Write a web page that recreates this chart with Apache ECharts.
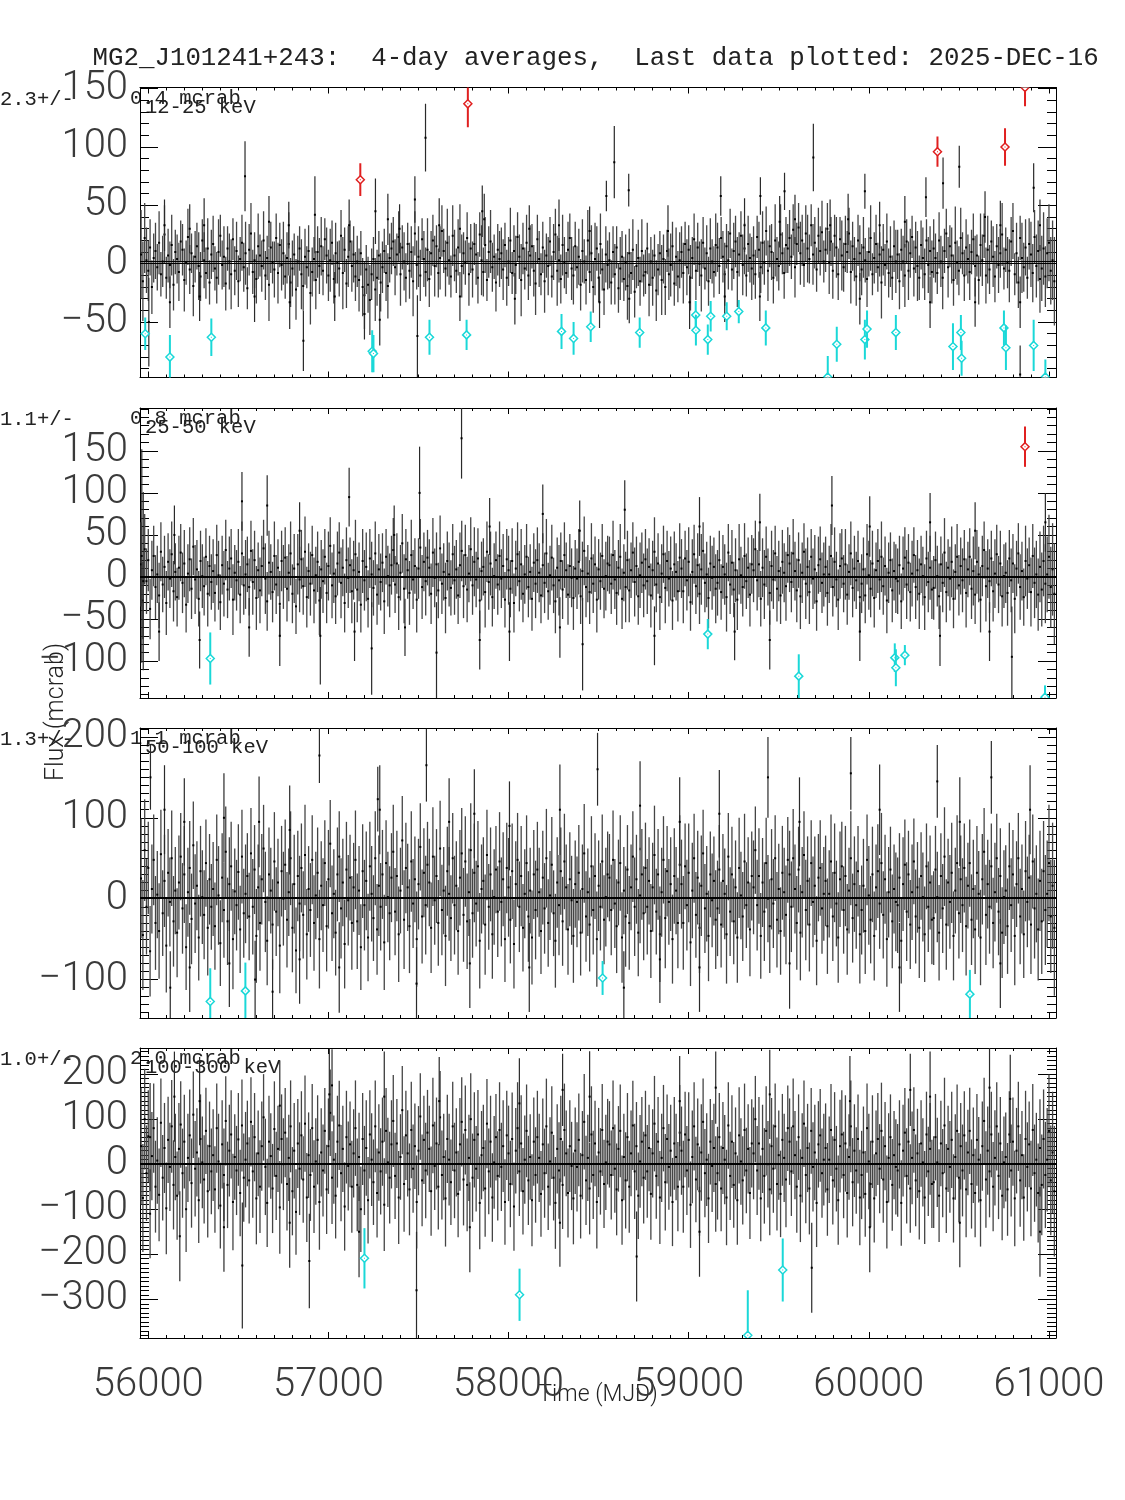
<!DOCTYPE html>
<html><head><meta charset="utf-8">
<script src="https://cdn.jsdelivr.net/npm/echarts@6/dist/echarts.min.js"></script>
<style>html,body{margin:0;padding:0;background:#fff}#c{width:1125px;height:1500px}</style>
</head><body><div id="c"></div>
<script>
// ---------------- DATA ----------------
const TITLE = 'MG2_J101241+243:  4-day averages,  Last data plotted: 2025-DEC-16';
const BANDS = ['12-25 keV', '25-50 keV', '50-100 keV', '100-300 keV'];
const MEAN_TXT = ['2.3+/-', '1.1+/-', '1.3+/-', '1.0+/-'];
const ERR_TXT = ['0.4 mcrab', '0.8 mcrab', '1.1 mcrab', '2.0 mcrab'];
const MEANS = [2.3, 1.1, 1.3, 1.0];
const X_TICKS = [56000, 57000, 58000, 59000, 60000, 61000];
const Y_TICKS_1 = [-50, 0, 50, 100, 150];
const Y_TICKS_2 = [-100, -50, 0, 50, 100, 150];
const Y_TICKS_3 = [-100, 0, 100, 200];
const Y_TICKS_4 = [-300, -200, -100, 0, 100, 200];

// time of each (sub-sampled) bin, MJD
const TIMES = [
55960,55970,55980,55990,56000,56010,56020,56030,56040,56050,56060,56070,56080,56090,56100,56110,56120,56130,56140,56150,
56160,56170,56180,56190,56200,56210,56220,56230,56240,56250,56260,56270,56280,56290,56300,56310,56320,56330,56340,56350,
56360,56370,56380,56390,56400,56410,56420,56430,56440,56450,56460,56470,56480,56490,56500,56510,56520,56530,56540,56550,
56560,56570,56580,56590,56600,56610,56620,56630,56640,56650,56660,56670,56680,56690,56700,56710,56720,56730,56740,56750,
56760,56770,56780,56790,56800,56810,56820,56830,56840,56850,56860,56870,56880,56890,56900,56910,56920,56930,56940,56950,
56960,56970,56980,56990,57000,57010,57020,57030,57040,57050,57060,57070,57080,57090,57100,57110,57120,57130,57140,57150,
57160,57170,57180,57190,57200,57210,57220,57230,57240,57250,57260,57270,57280,57290,57300,57310,57320,57330,57340,57350,
57360,57370,57380,57390,57400,57410,57420,57430,57440,57450,57460,57470,57480,57490,57500,57510,57520,57530,57540,57550,
57560,57570,57580,57590,57600,57610,57620,57630,57640,57650,57660,57670,57680,57690,57700,57710,57720,57730,57740,57750,
57760,57770,57780,57790,57800,57810,57820,57830,57840,57850,57860,57870,57880,57890,57900,57910,57920,57930,57940,57950,
57960,57970,57980,57990,58000,58010,58020,58030,58040,58050,58060,58070,58080,58090,58100,58110,58120,58130,58140,58150,
58160,58170,58180,58190,58200,58210,58220,58230,58240,58250,58260,58270,58280,58290,58300,58310,58320,58330,58340,58350,
58360,58370,58380,58390,58400,58410,58420,58430,58440,58450,58460,58470,58480,58490,58500,58510,58520,58530,58540,58550,
58560,58570,58580,58590,58600,58610,58620,58630,58640,58650,58660,58670,58680,58690,58700,58710,58720,58730,58740,58750,
58760,58770,58780,58790,58800,58810,58820,58830,58840,58850,58860,58870,58880,58890,58900,58910,58920,58930,58940,58950,
58960,58970,58980,58990,59000,59010,59020,59030,59040,59050,59060,59070,59080,59090,59100,59110,59120,59130,59140,59150,
59160,59170,59180,59190,59200,59210,59220,59230,59240,59250,59260,59270,59280,59290,59300,59310,59320,59330,59340,59350,
59360,59370,59380,59390,59400,59410,59420,59430,59440,59450,59460,59470,59480,59490,59500,59510,59520,59530,59540,59550,
59560,59570,59580,59590,59600,59610,59620,59630,59640,59650,59660,59670,59680,59690,59700,59710,59720,59730,59740,59750,
59760,59770,59780,59790,59800,59810,59820,59830,59840,59850,59860,59870,59880,59890,59900,59910,59920,59930,59940,59950,
59960,59970,59980,59990,60000,60010,60020,60030,60040,60050,60060,60070,60080,60090,60100,60110,60120,60130,60140,60150,
60160,60170,60180,60190,60200,60210,60220,60230,60240,60250,60260,60270,60280,60290,60300,60310,60320,60330,60340,60350,
60360,60370,60380,60390,60400,60410,60420,60430,60440,60450,60460,60470,60480,60490,60500,60510,60520,60530,60540,60550,
60560,60570,60580,60590,60600,60610,60620,60630,60640,60650,60660,60670,60680,60690,60700,60710,60720,60730,60740,60750,
60760,60770,60780,60790,60800,60810,60820,60830,60840,60850,60860,60870,60880,60890,60900,60910,60920,60930,60940,60950,
60960,60970,60980,60990,61000,61010,61020,61030];

// Panel 1: 12-25 keV (mcrab)
const FLUX_1 = [
8,-15,22,3,-6,14,-20,5,11,-3,18,-9,2,25,-12,7,-1,16,-18,10,
4,-7,19,12,-14,1,23,-5,9,-19,6,15,-2,-11,20,3,-8,13,-16,8,
17,-4,-12,10,24,-1,6,-17,13,2,-9,21,-6,11,-15,4,18,-3,9,-21,
12,26,-7,3,-13,15,7,-2,20,-10,5,-18,14,1,-5,22,-8,16,-1,9,
-11,5,17,-16,-4,8,-22,2,13,-9,-19,6,-3,11,-25,-7,4,-14,10,-2,
15,-6,21,7,-10,3,18,-13,9,1,-4,24,-8,12,-17,6,19,-2,8,-11,
2,-14,9,-20,-27,-5,-18,-31,-9,4,-22,-12,7,-16,-3,11,-8,-19,5,13,
19,-3,8,23,-9,14,2,-12,17,-6,10,-15,26,-1,6,-10,21,4,-7,12,
-13,9,20,-2,15,-8,5,28,11,-4,18,3,-11,24,7,-6,14,30,-2,9,
1,22,-9,13,-5,17,8,-12,25,3,-7,16,-14,10,19,-3,6,-16,12,4,
9,-5,16,-12,2,20,-8,11,-1,23,6,-14,13,-4,18,-10,7,15,-6,-17,
21,4,-9,14,-15,7,-2,19,-11,10,25,-6,3,-13,16,1,-8,12,22,-4,
-10,15,-3,6,-18,11,2,-14,20,-7,9,-20,4,13,-12,17,-5,-22,8,-1,
3,-16,10,-9,14,-21,-4,6,-13,1,-19,9,-8,12,-24,-2,5,-15,11,-10,
-7,13,-18,2,-12,7,-23,-5,9,-14,4,-20,11,-9,-1,15,-17,6,-11,3,
10,-8,17,-3,12,-12,5,21,-6,14,0,-10,18,-4,9,-15,13,2,-7,16,
14,-2,22,6,-9,15,3,26,-5,11,19,-7,8,24,-1,13,-10,17,5,-4,
7,-9,23,12,-3,18,1,28,-6,15,10,-12,20,4,-2,25,9,-8,16,13,
22,6,29,-3,17,31,9,20,-1,26,13,4,33,8,18,-5,24,11,27,2,
12,30,1,19,-6,24,14,-9,21,7,-3,17,10,26,-7,15,4,-11,20,9,
-5,14,3,-13,10,22,-9,5,17,-3,8,-16,12,-1,19,-8,6,-12,15,2,
8,-15,12,2,-10,19,-6,9,23,-4,14,-2,-12,16,5,-9,20,-1,11,-7,
13,5,-8,20,2,-12,11,26,-3,15,7,-14,18,1,-6,22,9,-10,14,4,
-7,10,21,-2,7,-14,16,3,24,-10,12,-5,19,6,-11,15,-1,9,25,-4,
12,1,-6,19,28,-9,9,-16,22,5,-3,14,-12,17,8,-8,23,-2,11,-13,
-4,13,-11,9,18,-6,3,-15];
const ERR_1 = [
38,34,30,28,26,24,23,21,24,20,27,19,22,25,18,23,20,26,22,19,
21,25,18,22,27,19,24,21,17,26,22,20,29,21,18,24,22,26,19,21,
24,19,22,28,18,21,26,23,19,24,30,18,21,25,22,19,24,21,27,18,
22,26,19,24,21,28,18,22,25,21,19,31,22,18,24,21,26,19,22,27,
19,22,27,21,24,18,26,22,19,30,21,24,18,22,27,21,19,25,22,24,
25,21,18,24,22,27,19,21,26,18,24,22,31,19,21,26,18,22,24,21,
22,27,19,25,29,21,24,30,22,19,27,24,21,25,22,19,24,28,21,22,
21,24,18,22,27,19,25,21,18,24,22,30,19,21,26,22,18,24,21,27,
24,19,22,26,18,21,27,22,19,24,29,21,18,26,22,19,24,21,27,18,
19,22,27,21,24,18,26,22,19,30,21,24,18,22,27,21,19,25,22,24,
22,26,19,24,21,28,18,22,25,21,19,31,22,18,24,21,26,19,22,27,
21,24,18,22,27,19,25,21,18,24,22,30,19,21,26,22,18,24,21,27,
25,21,18,24,22,27,19,21,26,18,24,22,31,19,21,26,18,22,24,21,
24,19,22,26,18,21,27,22,19,24,29,21,18,26,22,19,24,21,27,18,
19,22,27,21,24,18,26,22,19,30,21,24,18,22,27,21,19,25,22,24,
22,26,19,24,21,28,18,22,25,21,19,31,22,18,24,21,26,19,22,27,
21,24,18,22,27,19,25,21,18,24,22,30,19,21,26,22,18,24,21,27,
25,21,18,24,22,27,19,21,26,18,24,22,31,19,21,26,18,22,24,21,
24,19,22,26,18,21,27,22,19,24,29,21,18,26,22,19,24,21,27,18,
19,22,27,21,24,18,26,22,19,30,21,24,18,22,27,21,19,25,22,24,
22,26,19,24,21,28,18,22,25,21,19,31,22,18,24,21,26,19,22,27,
21,24,18,22,27,19,25,21,18,24,22,30,19,21,26,22,18,24,21,27,
25,21,18,24,22,27,19,21,26,18,24,22,31,19,21,26,18,22,24,21,
24,19,22,26,18,21,27,22,19,24,29,21,18,26,22,19,24,21,27,18,
19,22,27,21,24,18,26,22,19,30,21,24,18,22,28,25,23,27,26,29,
28,31,26,30,33,29,34,38];
// isolated bins standing out of the band (large excursions / large errors)
const SPIKE_T_1 = [56003,56537,56861,56925,57261,57480,57494,57539,57854,58543,58587,58667,59178,59398,59532,59692,59978,60317,60412,60502,60840,60915,
  56090,56230,56310,56670,56780,57115,57330,57395,57615,57865,58115,58280,58450,58885,59310,59505,59590,59785,59885,60060,60200,60645,60730,60950,
  56120,56285,56590,56785,57035,57200,57285,57730,58035,58505,58670,59005,59200,59395,59950,60340,60590,60840];
const SPIKE_V_1 = [-50,75,-66,42,45,55,-62,108,45,58,87,63,58,58,62,91,62,57,69,83,-95,65,
  33,30,33,36,33,33,38,30,33,38,30,33,28,28,33,36,38,33,38,33,36,40,33,33,
  -33,-28,-28,-33,-28,-43,-48,-28,-30,-33,-30,-33,-28,-28,-30,-33,-33,-33];
const SPIKE_E_1 = [38,30,26,33,28,20,35,29,22,13,31,14,17,16,16,29,15,17,22,18,25,21,
  22,21,23,22,20,22,22,21,23,22,20,22,21,22,23,22,21,22,22,20,22,22,21,22,
  22,21,22,23,21,22,22,21,22,22,21,23,22,21,22,22,21,22];
const RED_T_1 = [57177,57774,60381,60756,60867];
const RED_V_1 = [72,137,96,100,151];
const RED_E_1 = [14,20,13,16,16];
const CYAN_T_1 = [55983,56120,56350,57243,57250,57561,57767,58294,58361,58456,58728,59039,59040,59106,59122,59211,59278,59428,59772,59822,59978,59990,60150,60467,60511,60515,60750,60761,60915,60980];
const CYAN_V_1 = [-60,-80,-63,-75,-77,-63,-61,-58,-64,-54,-59,-44,-57,-65,-45,-45,-41,-55,-97,-69,-65,-56,-59,-71,-59,-81,-55,-72,-70,-97];
const CYAN_E_1 = [14,19,16,18,16,15,13,15,14,13,13,12,13,13,13,12,10,15,18,15,17,16,15,20,15,15,15,19,22,15];

// Panel 2: 25-50 keV
const FLUX_2 = [
15,-28,33,-5,20,-38,8,25,-12,3,-22,30,-9,12,-31,18,-2,27,-17,6,
-24,11,29,-7,16,-33,4,21,-14,36,-3,9,-26,19,1,-11,24,-20,13,-6,
7,-19,26,2,-30,14,-8,32,-15,10,22,-27,5,-4,18,-21,28,-10,3,15,
-12,31,-6,20,-25,8,-16,13,34,-2,-29,17,6,-18,25,-9,11,-32,19,0,
23,-14,5,28,-20,10,-35,15,-3,21,-11,30,-24,7,-8,26,-16,2,18,-28,
9,-5,24,-19,13,37,-10,4,-23,16,29,-7,11,-31,20,-1,14,-17,8,27,
-15,6,-33,19,-4,12,-26,22,3,-13,28,-21,9,-6,17,-29,24,1,-10,14,
32,-9,16,-24,5,40,-14,21,8,-19,26,-3,13,-27,10,35,-12,18,-5,23,
11,-20,29,-1,15,-16,34,-8,6,-25,19,3,-13,27,-4,9,-22,14,31,-11,
26,-15,4,33,-10,18,-3,22,-28,7,12,-18,30,-6,16,-24,1,20,-9,25,
-2,13,-27,21,8,-14,19,-31,10,27,-5,15,-20,3,24,-12,6,-26,17,-8,
20,5,-22,14,-7,28,-17,2,23,-10,-29,11,-4,19,-15,26,8,-21,13,-1,
-25,10,-2,18,-23,7,31,-12,4,-18,22,-8,15,-27,9,-5,25,-14,1,16,
14,-8,26,-3,-19,11,24,-26,5,-12,20,-16,8,29,-6,13,-23,2,17,-10,
21,-5,12,-22,8,30,-9,16,-24,4,27,-13,19,-2,10,-28,15,6,-17,23,
10,-17,22,-4,18,-30,6,27,-11,14,-20,9,31,-7,3,-25,16,-1,12,-14,
-7,20,-18,12,3,-24,29,-9,17,-15,8,-27,21,2,-12,25,-5,11,-21,15,
8,33,-4,15,-26,11,-9,24,0,-19,13,-3,28,-14,7,-22,18,5,-11,26,
16,-6,28,7,-16,20,-23,5,30,-8,12,-18,24,-2,9,-29,14,21,-7,3,
12,-19,3,25,-12,18,-3,-27,13,22,-8,15,-21,6,28,-13,10,-4,19,-24,
-8,9,-22,27,2,-14,16,-25,8,19,-3,24,-11,13,-28,5,20,-16,7,-2,
-5,14,-29,10,23,-9,17,-18,4,26,-12,8,-20,15,1,-24,22,-6,11,-15,
-13,20,1,-23,15,-7,29,-18,11,-2,18,-26,6,24,-10,13,-4,21,-19,9,
24,-14,7,-21,18,3,-27,13,32,-11,10,-5,22,-17,4,27,-9,16,-23,1,
5,-19,22,-4,16,-26,10,28,-12,7,-24,19,-2,14,-18,25,-7,3,-21,12,
-15,19,-8,3,24,-12,9,-20];
const ERR_2 = [
50,46,42,39,37,36,35,36,38,34,39,35,33,37,38,34,35,39,36,34,
35,38,34,36,40,33,35,38,36,34,41,35,33,36,38,35,34,39,36,33,
38,34,36,41,33,35,39,36,34,38,35,42,33,36,39,34,38,35,41,33,
34,36,39,35,38,33,39,36,34,42,35,38,33,36,41,35,34,39,36,38,
36,39,34,38,35,41,33,36,39,35,34,42,36,33,38,35,39,34,36,41,
35,38,33,36,41,34,39,35,33,38,36,42,34,35,39,36,33,38,35,41,
39,35,33,38,36,41,34,35,39,33,38,36,42,34,35,39,33,36,38,35,
38,34,36,39,33,35,41,36,34,38,42,35,33,39,36,34,38,35,41,33,
34,36,41,35,38,33,39,36,34,42,35,38,33,36,41,35,34,39,36,38,
36,39,34,38,35,41,33,36,39,35,34,42,36,33,38,35,39,34,36,41,
35,38,33,36,41,34,39,35,33,38,36,42,34,35,39,36,33,38,35,41,
39,35,33,38,36,41,34,35,39,33,38,36,42,34,35,39,33,36,38,35,
38,34,36,39,33,35,41,36,34,38,42,35,33,39,36,34,38,35,41,33,
34,36,41,35,38,33,39,36,34,42,35,38,33,36,41,35,34,39,36,38,
36,39,34,38,35,41,33,36,39,35,34,42,36,33,38,35,39,34,36,41,
35,38,33,36,41,34,39,35,33,38,36,42,34,35,39,36,33,38,35,41,
39,35,33,38,36,41,34,35,39,33,38,36,42,34,35,39,33,36,38,35,
38,34,36,39,33,35,41,36,34,38,42,35,33,39,36,34,38,35,41,33,
34,36,41,35,38,33,39,36,34,42,35,38,33,36,41,35,34,39,36,38,
36,39,34,38,35,41,33,36,39,35,34,42,36,33,38,35,39,34,36,41,
35,38,33,36,41,34,39,35,33,38,36,42,34,35,39,36,33,38,35,41,
39,35,33,38,36,41,34,35,39,33,38,36,42,34,35,39,33,36,38,35,
38,34,36,39,33,35,41,36,34,38,42,35,33,39,36,34,38,35,41,33,
34,36,41,35,38,33,39,36,34,42,35,38,33,36,41,35,34,39,36,38,
36,39,34,38,35,41,33,36,39,35,34,42,36,33,41,38,42,40,43,42,
44,42,47,45,50,48,55,60];
const SPIKE_T_2 = [55964,55972,56955,57240,57506,57600,57739,58411,60794,
  56145,56520,56660,56840,57115,57365,57895,58190,58395,58645,59060,59395,59795,60005,60340,60590,60980,
  56060,56285,56560,56730,57145,57425,57840,58005,58285,58810,59255,59450,59950,60395,60670];
const SPIKE_V_2 = [25,-5,-70,-85,100,-90,165,-80,-95,
  50,90,85,55,95,50,60,75,55,80,60,65,85,60,65,55,65,
  -65,-75,-60,-70,-65,-60,-75,-65,-60,-70,-65,-75,-65,-70,-65];
const SPIKE_E_2 = [127,106,58,55,55,60,48,55,60,
  35,35,36,34,35,35,34,35,36,35,35,34,35,36,35,34,35,
  35,34,35,36,35,34,35,35,36,35,34,35,35,36,35];
const RED_T_2 = [60867];
const RED_V_2 = [155];
const RED_E_2 = [24];
const CYAN_T_2 = [56344,59106,59611,60144,60150,60200,60978];
const CYAN_V_2 = [-97,-68,-118,-96,-108,-93,-143];
const CYAN_E_2 = [31,18,26,17,22,12,14];

// Panel 3: 50-100 keV
const FLUX_3 = [
25,-45,60,-10,38,-65,12,48,-30,5,-40,55,-18,22,-58,32,-4,50,-28,10,
-42,20,52,-12,30,-60,8,38,-25,66,-6,16,-48,34,2,-20,44,-36,24,-10,
12,-34,48,4,-55,26,-14,58,-28,18,40,-50,9,-8,33,-38,52,-18,6,28,
-22,56,-10,36,-46,14,-30,24,62,-4,-52,30,10,-32,46,-16,20,-58,34,0,
42,-26,8,50,-36,18,-64,28,-6,38,-20,54,-44,12,-14,48,-30,4,32,-50,
16,-8,44,-34,24,68,-18,6,-42,30,52,-12,20,-56,36,-2,26,-30,14,48,
-28,10,-60,34,-8,22,-48,40,6,-24,50,-38,16,-10,30,-54,44,2,-18,26,
58,-16,28,-44,10,72,-26,38,14,-34,46,-6,24,-50,18,64,-22,32,-8,42,
20,-36,52,-2,28,-30,62,-14,10,-46,34,6,-24,50,-8,16,-40,26,56,-20,
46,-28,8,60,-18,32,-6,40,-52,12,22,-32,54,-10,30,-44,2,36,-16,46,
-4,24,-50,38,14,-26,34,-56,18,48,-10,28,-36,6,44,-22,10,-48,30,-14,
36,8,-40,26,-12,50,-30,4,42,-18,-52,20,-8,34,-28,46,14,-38,24,-2,
-46,18,-4,32,-42,12,56,-22,8,-32,40,-14,28,-50,16,-10,46,-26,2,30,
26,-14,48,-6,-34,20,44,-48,10,-22,36,-30,14,52,-10,24,-42,4,30,-18,
38,-10,22,-40,14,54,-16,30,-44,8,48,-24,34,-4,18,-50,28,10,-30,42,
18,-30,40,-8,32,-54,10,50,-20,26,-36,16,56,-12,6,-46,30,-2,22,-26,
-12,36,-32,22,6,-44,52,-16,30,-28,14,-48,38,4,-22,46,-8,20,-38,28,
14,60,-8,28,-46,20,-16,44,0,-34,24,-6,50,-26,12,-40,32,8,-20,48,
30,-10,50,12,-30,36,-42,8,54,-14,22,-32,44,-4,16,-52,26,38,-12,6,
22,-34,6,46,-22,32,-6,-48,24,40,-14,28,-38,10,50,-24,18,-8,34,-44,
-14,16,-40,48,4,-26,30,-46,14,34,-6,44,-20,24,-50,8,36,-28,12,-4,
-8,26,-52,18,42,-16,30,-32,8,46,-22,14,-36,28,2,-44,40,-10,20,-26,
-24,36,2,-42,28,-12,52,-32,20,-4,32,-46,10,44,-18,24,-8,38,-34,16,
44,-26,12,-38,32,6,-48,24,58,-20,18,-10,40,-30,8,50,-16,28,-42,2,
10,-34,40,-8,30,-46,18,50,-22,12,-44,34,-4,26,-32,46,-12,6,-38,22,
-28,34,-14,6,44,-22,16,-36];
const ERR_3 = [
74,68,63,59,57,56,55,56,58,54,59,55,53,57,58,54,55,59,56,54,
55,58,54,56,60,53,55,58,56,54,61,55,53,56,58,55,54,59,56,53,
58,54,56,61,53,55,59,56,54,58,55,62,53,56,59,54,58,55,61,53,
54,56,59,55,58,53,59,56,54,62,55,58,53,56,61,55,54,59,56,58,
56,59,54,58,55,61,53,56,59,55,54,62,56,53,58,55,59,54,56,61,
55,58,53,56,61,54,59,55,53,58,56,62,54,55,59,56,53,58,55,61,
59,55,53,58,56,61,54,55,59,53,58,56,62,54,55,59,53,56,58,55,
58,54,56,59,53,55,61,56,54,58,62,55,53,59,56,54,58,55,61,53,
54,56,61,55,58,53,59,56,54,62,55,58,53,56,61,55,54,59,56,58,
56,59,54,58,55,61,53,56,59,55,54,62,56,53,58,55,59,54,56,61,
55,58,53,56,61,54,59,55,53,58,56,62,54,55,59,56,53,58,55,61,
59,55,53,58,56,61,54,55,59,53,58,56,62,54,55,59,53,56,58,55,
58,54,56,59,53,55,61,56,54,58,62,55,53,59,56,54,58,55,61,53,
54,56,61,55,58,53,59,56,54,62,55,58,53,56,61,55,54,59,56,58,
56,59,54,58,55,61,53,56,59,55,54,62,56,53,58,55,59,54,56,61,
55,58,53,56,61,54,59,55,53,58,56,62,54,55,59,56,53,58,55,61,
59,55,53,58,56,61,54,55,59,53,58,56,62,54,55,59,53,56,58,55,
58,54,56,59,53,55,61,56,54,58,62,55,53,59,56,54,58,55,61,53,
54,56,61,55,58,53,59,56,54,62,55,58,53,56,61,55,54,59,56,58,
56,59,54,58,55,61,53,56,59,55,54,62,56,53,58,55,59,54,56,61,
55,58,53,56,61,54,59,55,53,58,56,62,54,55,59,56,53,58,55,61,
59,55,53,58,56,61,54,55,59,53,58,56,62,54,55,59,53,56,58,55,
58,54,56,59,53,55,61,56,54,58,62,55,53,59,56,54,58,55,61,53,
54,56,61,55,58,53,59,56,54,62,55,58,53,56,61,55,54,59,56,58,
56,59,54,58,55,61,53,56,59,55,54,62,56,53,61,58,62,60,63,62,
65,62,68,66,72,70,78,84];
const SPIKE_T_3 = [56012,56122,56593,56690,56950,57274,57489,57544,58494,58640,59440,59900,60380,60680,
  56090,56200,56420,56615,56785,57285,57670,57810,58005,58285,58730,58950,59170,59615,60060,60505,60895,
  56230,56450,56840,57060,57785,58115,58840,59060,59560,60170,60730];
const SPIKE_V_3 = [150,-110,-100,-115,177,123,-105,165,160,-110,150,155,145,150,
  110,95,100,95,85,110,95,105,90,110,115,95,105,95,110,95,110,
  -85,-80,-75,-85,-80,-85,-75,-85,-80,-85,-80];
const SPIKE_E_3 = [40,45,48,40,34,40,45,45,45,45,50,45,45,45,
  55,54,55,56,55,55,54,55,55,56,55,55,54,55,56,55,55,
  55,54,55,56,55,55,54,55,56,55,55];
const CYAN_T_3 = [56344,56539,58522,60561];
const CYAN_V_3 = [-127,-114,-98,-118];
const CYAN_E_3 = [41,35,21,30];

// Panel 4: 100-300 keV
const FLUX_4 = [
40,-75,100,-20,62,-110,18,80,-50,8,-68,92,-30,36,-98,54,-6,84,-46,16,
-70,34,88,-20,50,-100,14,64,-42,110,-10,26,-80,56,4,-34,74,-60,40,-16,
20,-56,80,6,-92,44,-24,96,-46,30,66,-84,16,-14,55,-64,86,-30,10,46,
-36,94,-16,60,-76,24,-50,40,104,-6,-86,50,18,-54,78,-26,34,-96,56,0,
70,-44,14,84,-60,30,-106,46,-10,64,-34,90,-74,20,-24,80,-50,6,54,-84,
26,-14,74,-56,40,114,-30,10,-70,50,86,-20,34,-94,60,-4,44,-50,24,80,
-46,16,-100,56,-14,36,-80,66,10,-40,84,-64,26,-16,50,-90,74,4,-30,44,
96,-26,46,-74,16,120,-44,64,24,-56,76,-10,40,-84,30,106,-36,54,-14,70,
34,-60,86,-4,46,-50,104,-24,16,-76,56,10,-40,84,-14,26,-66,44,94,-34,
76,-46,14,100,-30,54,-10,66,-86,20,36,-54,90,-16,50,-74,4,60,-26,76,
-6,40,-84,64,24,-44,56,-94,30,80,-16,46,-60,10,74,-36,16,-80,50,-24,
60,14,-66,44,-20,84,-50,6,70,-30,-86,34,-14,56,-46,76,24,-64,40,-4,
-76,30,-6,54,-70,20,94,-36,14,-54,66,-24,46,-84,26,-16,76,-44,4,50,
44,-24,80,-10,-56,34,74,-80,16,-36,60,-50,24,86,-16,40,-70,6,50,-30,
64,-16,36,-66,24,90,-26,50,-74,14,80,-40,56,-6,30,-84,46,16,-50,70,
30,-50,66,-14,54,-90,16,84,-34,44,-60,26,94,-20,10,-76,50,-4,36,-44,
-20,60,-54,36,10,-74,86,-26,50,-46,24,-80,64,6,-36,76,-14,34,-64,46,
24,100,-14,46,-76,34,-26,74,0,-56,40,-10,84,-44,20,-66,54,14,-34,80,
50,-16,84,20,-50,60,-70,14,90,-24,36,-54,74,-6,26,-86,44,64,-20,10,
36,-56,10,76,-36,54,-10,-80,40,66,-24,46,-64,16,84,-40,30,-14,56,-74,
-24,26,-66,80,6,-44,50,-76,24,56,-10,74,-34,40,-84,14,60,-46,20,-6,
-14,44,-86,30,70,-26,50,-54,14,76,-36,24,-60,46,4,-74,66,-16,34,-44,
-40,60,4,-70,46,-20,86,-54,34,-6,54,-76,16,74,-30,40,-14,64,-56,26,
74,-44,20,-64,54,10,-80,40,96,-34,30,-16,66,-50,14,84,-26,46,-70,4,
16,-56,66,-14,50,-76,30,84,-36,20,-74,56,-6,44,-54,76,-20,10,-64,36,
-46,56,-24,10,74,-36,26,-60];
const ERR_4 = [
130,120,112,106,102,99,98,99,102,96,103,98,95,100,102,96,98,103,99,96,
98,102,96,99,104,95,98,102,99,96,106,98,95,99,102,98,96,103,99,95,
102,96,99,106,95,98,103,99,96,102,98,107,95,99,103,96,102,98,106,95,
96,99,103,98,102,95,103,99,96,107,98,102,95,99,106,98,96,103,99,102,
99,103,96,102,98,106,95,99,103,98,96,107,99,95,102,98,103,96,99,106,
98,102,95,99,106,96,103,98,95,102,99,107,96,98,103,99,95,102,98,106,
103,98,95,102,99,106,96,98,103,95,102,99,107,96,98,103,95,99,102,98,
102,96,99,103,95,98,106,99,96,102,107,98,95,103,99,96,102,98,106,95,
96,99,106,98,102,95,103,99,96,107,98,102,95,99,106,98,96,103,99,102,
99,103,96,102,98,106,95,99,103,98,96,107,99,95,102,98,103,96,99,106,
98,102,95,99,106,96,103,98,95,102,99,107,96,98,103,99,95,102,98,106,
103,98,95,102,99,106,96,98,103,95,102,99,107,96,98,103,95,99,102,98,
102,96,99,103,95,98,106,99,96,102,107,98,95,103,99,96,102,98,106,95,
96,99,106,98,102,95,103,99,96,107,98,102,95,99,106,98,96,103,99,102,
99,103,96,102,98,106,95,99,103,98,96,107,99,95,102,98,103,96,99,106,
98,102,95,99,106,96,103,98,95,102,99,107,96,98,103,99,95,102,98,106,
103,98,95,102,99,106,96,98,103,95,102,99,107,96,98,103,95,99,102,98,
102,96,99,103,95,98,106,99,96,102,107,98,95,103,99,96,102,98,106,95,
96,99,106,98,102,95,103,99,96,107,98,102,95,99,106,98,96,103,99,102,
99,103,96,102,98,106,95,99,103,98,96,107,99,95,102,98,103,96,99,106,
98,102,95,99,106,96,103,98,95,102,99,107,96,98,103,99,95,102,98,106,
103,98,95,102,99,106,96,98,103,95,102,99,107,96,98,103,95,99,102,98,
102,96,99,103,95,98,106,99,96,102,107,98,95,103,99,96,102,98,106,95,
96,99,106,98,102,95,103,99,96,107,98,102,95,99,106,98,96,103,99,102,
99,103,96,102,98,106,95,99,103,98,96,107,99,95,106,102,108,104,110,108,
112,110,118,115,125,122,135,145];
const SPIKE_T_4 = [56010,56522,56894,57020,57489,58300,58711,59150,59683,60230,60670,
  56145,56285,56730,57005,57310,57615,58060,58450,58950,59450,59895,60340,60785,
  56175,56420,56785,57170,57785,58285,59060,60005,60505,60950];
const SPIKE_V_4 = [60,-225,-215,175,-280,165,-205,170,-230,165,170,
  150,140,130,155,150,140,135,150,140,155,140,150,145,
  -160,-140,-130,-150,-140,-130,-150,-140,-130,-150];
const SPIKE_E_4 = [120,140,105,80,130,80,100,80,100,80,90,
  100,98,100,102,100,98,100,101,100,99,100,100,98,
  100,99,100,101,100,98,100,100,99,100];
const CYAN_T_4 = [57200,58061,59328,59522];
const CYAN_V_4 = [-209,-290,-380,-235];
const CYAN_E_4 = [67,58,100,70];

// ---------------- BUILD ----------------
const X_MIN = 55954, X_MAX = 61039;
const PANELS = [
  {top: 87.5, min: -97.5, max: 151, ticks: Y_TICKS_1, v: FLUX_1, e: ERR_1, st: SPIKE_T_1, sv: SPIKE_V_1, se: SPIKE_E_1, rt: RED_T_1, rv: RED_V_1, re: RED_E_1, ct: CYAN_T_1, cv: CYAN_V_1, ce: CYAN_E_1},
  {top: 408, min: -144, max: 201, ticks: Y_TICKS_2, v: FLUX_2, e: ERR_2, st: SPIKE_T_2, sv: SPIKE_V_2, se: SPIKE_E_2, rt: RED_T_2, rv: RED_V_2, re: RED_E_2, ct: CYAN_T_2, cv: CYAN_V_2, ce: CYAN_E_2},
  {top: 728, min: -147.5, max: 211, ticks: Y_TICKS_3, v: FLUX_3, e: ERR_3, st: SPIKE_T_3, sv: SPIKE_V_3, se: SPIKE_E_3, rt: [], rv: [], re: [], ct: CYAN_T_3, cv: CYAN_V_3, ce: CYAN_E_3},
  {top: 1048, min: -386, max: 258, ticks: Y_TICKS_4, v: FLUX_4, e: ERR_4, st: SPIKE_T_4, sv: SPIKE_V_4, se: SPIKE_E_4, rt: [], rv: [], re: [], ct: CYAN_T_4, cv: CYAN_V_4, ce: CYAN_E_4}
];
const GRID_LEFT = 140, GRID_W = 916, GRID_H = 290;

function pts(T, V, E) {
  const out = [];
  for (let i = 0; i < T.length; i++) if (V[i] !== undefined && E[i] !== undefined) out.push([T[i], V[i], E[i]]);
  return out;
}
const X_MINOR = [];
for (let t = 56000; t <= 61000; t += 100) if (t % 1000 !== 0) X_MINOR.push(t);
function yMinor(p) {
  const out = [];
  for (let v = Math.ceil(p.min / 10) * 10; v <= p.max; v += 10) if (p.ticks.indexOf(v) < 0) out.push(v);
  return out;
}
const LABEL_FONT = {fontFamily: 'Roboto', fontWeight: 300, fontSize: 40, color: '#3a3a3a'};
function fmt(v) { return v < 0 ? '\u2212' + Math.abs(v) : String(v); }

const grids = [], xAxes = [], yAxes = [], series = [];
PANELS.forEach((p, gi) => {
  grids.push({left: GRID_LEFT, top: p.top, width: GRID_W, height: GRID_H, containLabel: false});
  const lastPanel = gi === PANELS.length - 1;
  [['bottom', X_TICKS, 6, true, lastPanel], ['bottom', X_MINOR, 3, false, false],
   ['top', X_TICKS, 6, true, false], ['top', X_MINOR, 3, false, false]].forEach(a => {
    xAxes.push({type: 'value', gridIndex: gi, position: a[0], min: X_MIN, max: X_MAX,
      axisLine: {show: a[3], onZero: false, lineStyle: {color: '#000', width: 1}},
      axisTick: {show: true, inside: true, length: a[2], customValues: a[1], lineStyle: {color: '#000', width: 1}},
      axisLabel: {show: a[4], customValues: X_TICKS, margin: 28, formatter: v => String(v), ...LABEL_FONT},
      splitLine: {show: false}, axisPointer: {show: false}});
  });
  const ym = yMinor(p);
  [['left', p.ticks, 18, true, true], ['left', ym, 9, false, false],
   ['right', p.ticks, 18, true, false], ['right', ym, 9, false, false]].forEach(a => {
    yAxes.push({type: 'value', gridIndex: gi, position: a[0], min: p.min, max: p.max,
      axisLine: {show: a[3], onZero: false, lineStyle: {color: '#000', width: 1}},
      axisTick: {show: true, inside: true, length: a[2], customValues: a[1], lineStyle: {color: '#000', width: 1}},
      axisLabel: {show: a[4], customValues: p.ticks, margin: 12, formatter: fmt, ...LABEL_FONT},
      splitLine: {show: false}, axisPointer: {show: false}});
  });
  const xi = gi * 4, yi = gi * 4;
  const errRender = (color, lw) => function (params, api) {
    const x = api.value(0), v = api.value(1), e = api.value(2);
    const a = api.coord([x, v + e]), b = api.coord([x, v - e]), c = api.coord([x, v]);
    return {type: 'group', children: [
      {type: 'line', shape: {x1: a[0], y1: a[1], x2: b[0], y2: b[1]}, style: {stroke: color, lineWidth: lw}},
      {type: 'rect', shape: {x: c[0] - 1, y: c[1] - 1, width: 2, height: 2}, style: {fill: '#000'}}
    ]};
  };
  const diaRender = (color) => function (params, api) {
    const x = api.value(0), v = api.value(1), e = api.value(2);
    const a = api.coord([x, v + e]), b = api.coord([x, v - e]), c = api.coord([x, v]);
    const r = 4;
    return {type: 'group', children: [
      {type: 'line', shape: {x1: a[0], y1: a[1], x2: b[0], y2: b[1]}, style: {stroke: color, lineWidth: 2}},
      {type: 'polygon', shape: {points: [[c[0], c[1] - r], [c[0] + r, c[1]], [c[0], c[1] + r], [c[0] - r, c[1]]]},
        style: {stroke: color, fill: '#fff', lineWidth: 1.5}},
      {type: 'rect', shape: {x: c[0] - 0.5, y: c[1] - 0.5, width: 1, height: 1}, style: {fill: color}}
    ]};
  };
  series.push({type: 'line', xAxisIndex: xi, yAxisIndex: yi, data: [], silent: true,
    markLine: {silent: true, symbol: ['none', 'none'], label: {show: false}, animation: false,
      lineStyle: {color: '#000', width: 1, type: 'solid'},
      data: [{yAxis: 0}, {yAxis: MEANS[gi]}]}});
  series.push({type: 'custom', xAxisIndex: xi, yAxisIndex: yi, clip: true, silent: true,
    renderItem: errRender('#454545', 1.3), encode: {x: 0, y: 1}, data: pts(TIMES, p.v, p.e)});
  series.push({type: 'custom', xAxisIndex: xi, yAxisIndex: yi, clip: true, silent: true,
    renderItem: errRender('#2a2a2a', 1.2), encode: {x: 0, y: 1}, data: pts(p.st, p.sv, p.se)});
  if (p.rt.length) series.push({type: 'custom', xAxisIndex: xi, yAxisIndex: yi, clip: true, silent: true,
    renderItem: diaRender('#e02020'), encode: {x: 0, y: 1}, data: pts(p.rt, p.rv, p.re)});
  series.push({type: 'custom', xAxisIndex: xi, yAxisIndex: yi, clip: true, silent: true,
    renderItem: diaRender('#1ad8d8'), encode: {x: 0, y: 1}, data: pts(p.ct, p.cv, p.ce)});
});

const SMALL = '20.5px "Liberation Mono"';
const graphics = [
  {type: 'text', x: 92.5, y: 58, style: {text: TITLE, font: '25.8px "Liberation Mono"', fill: '#222', align: 'left', verticalAlign: 'middle'}},
  {type: 'text', x: 57, y: 712, rotation: Math.PI / 2, style: {text: 'Flux (mcrab)', font: '300 25px Roboto', fill: '#222', align: 'center', verticalAlign: 'middle'}},
  {type: 'text', x: 598, y: 1395, style: {text: 'Time (MJD)', font: '300 23px Roboto', fill: '#222', align: 'center', verticalAlign: 'middle'}}
];
PANELS.forEach((p, gi) => {
  const ty = p.top;
  graphics.push({type: 'text', x: 0, y: ty + 12, style: {text: MEAN_TXT[gi], font: SMALL, fill: '#222', align: 'left', verticalAlign: 'middle'}});
  graphics.push({type: 'text', x: 130, y: ty + 11, style: {text: ERR_TXT[gi], font: SMALL, fill: '#222', align: 'left', verticalAlign: 'middle'}});
  graphics.push({type: 'text', x: 145, y: ty + 20, style: {text: BANDS[gi], font: SMALL, fill: '#222', align: 'left', verticalAlign: 'middle'}});
});

const chart = echarts.init(document.getElementById('c'), null, {renderer: 'canvas'});
chart.setOption({
  animation: false,
  backgroundColor: '#fff',
  grid: grids, xAxis: xAxes, yAxis: yAxes, series: series, graphic: graphics
});
</script></body></html>
